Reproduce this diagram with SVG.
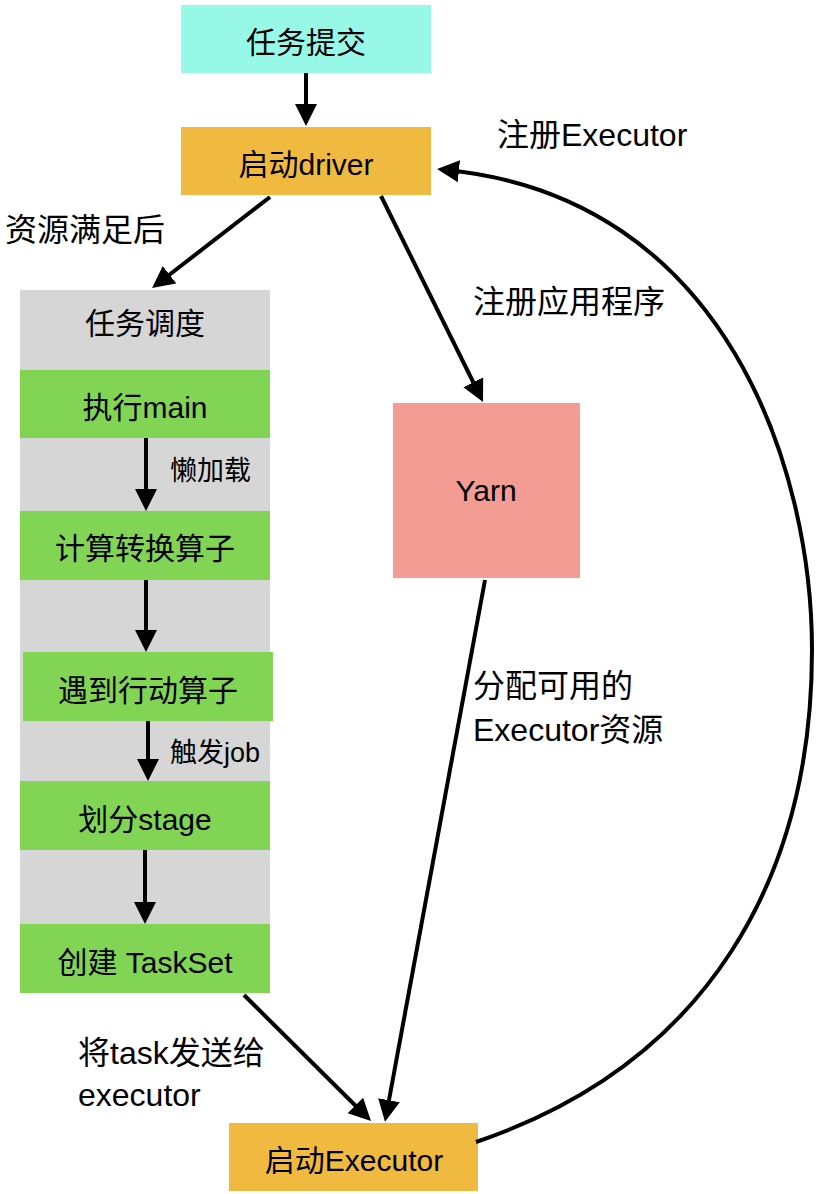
<svg xmlns="http://www.w3.org/2000/svg" width="822" height="1194" viewBox="0 0 822 1194">
<style>
text{font-family:"Liberation Sans","Noto Sans CJK SC",sans-serif;fill:#000}
.n{font-size:30px;text-anchor:middle}
.l{font-size:32px}
.s{font-size:27px}
.c{fill:none;stroke:#000;stroke-width:4}
</style>
<defs>
<marker id="ah" markerUnits="userSpaceOnUse" markerWidth="24" markerHeight="24" viewBox="0 0 24 24" refX="12" refY="12" orient="auto">
<path d="M0,1 L22,12 L0,23 Z" fill="#000"/>
</marker>
</defs>
<rect width="822" height="1194" fill="#fff"/>
<g id="submit"><rect x="181" y="5" width="250" height="68" fill="#98F8E8"/><text class="n" x="306" y="53">任务提交</text></g>
<g id="driver"><rect x="181" y="127" width="250" height="68" fill="#F0B940"/><text class="n" x="306" y="175">启动driver</text></g>
<g id="schedule"><rect x="20" y="290" width="250" height="703" fill="#D6D6D6"/><text class="n" x="145" y="334">任务调度</text></g>
<g id="main"><rect x="20" y="370" width="250" height="68" fill="#82D455"/><text class="n" x="145" y="418">执行main</text></g>
<g id="transform"><rect x="20" y="511" width="250" height="69" fill="#82D455"/><text class="n" x="145" y="559">计算转换算子</text></g>
<g id="action"><rect x="23" y="652" width="250" height="69" fill="#82D455"/><text class="n" x="148" y="701">遇到行动算子</text></g>
<g id="stage"><rect x="20" y="781" width="250" height="69" fill="#82D455"/><text class="n" x="145" y="830">划分stage</text></g>
<g id="taskset"><rect x="20" y="924" width="250" height="69" fill="#82D455"/><text class="n" x="145" y="973">创建 TaskSet</text></g>
<g id="yarn"><rect x="393" y="403" width="187" height="175" fill="#F29C94"/><text class="n" x="486" y="501">Yarn</text></g>
<g id="executor"><rect x="229" y="1123" width="249" height="68" fill="#F0B940"/><text class="n" x="354" y="1171">启动Executor</text></g>
<g id="connectors">
<path class="c" d="M306,73 L306,116" marker-end="url(#ah)"/>
<path class="c" d="M270,197 L160,282" marker-end="url(#ah)"/>
<path class="c" d="M381,196 L478.6,393" marker-end="url(#ah)"/>
<path class="c" d="M485,580 L386.8,1112" marker-end="url(#ah)"/>
<path class="c" d="M244,995 L363.9,1114" marker-end="url(#ah)"/>
<path class="c" d="M146,438 L146,501" marker-end="url(#ah)"/>
<path class="c" d="M146,580 L146,642" marker-end="url(#ah)"/>
<path class="c" d="M148,721 L148,771" marker-end="url(#ah)"/>
<path class="c" d="M145,850 L145,914" marker-end="url(#ah)"/>
<path class="c" d="M476,1142 C706,1064 812,880 812,650 C812,470 727,198 447,170" marker-end="url(#ah)"/>
</g>
<g id="labels">
<text class="l" x="497" y="146">注册Executor</text>
<text class="l" x="5" y="241">资源满足后</text>
<text class="l" x="473" y="313">注册应用程序</text>
<text class="s" x="170" y="480">懒加载</text>
<text class="s" x="170" y="762">触发job</text>
<text class="l" x="473" y="697">分配可用的</text>
<text class="l" x="473" y="741">Executor资源</text>
<text class="l" x="78" y="1064">将task发送给</text>
<text class="l" x="78" y="1106">executor</text>
</g>
</svg>
